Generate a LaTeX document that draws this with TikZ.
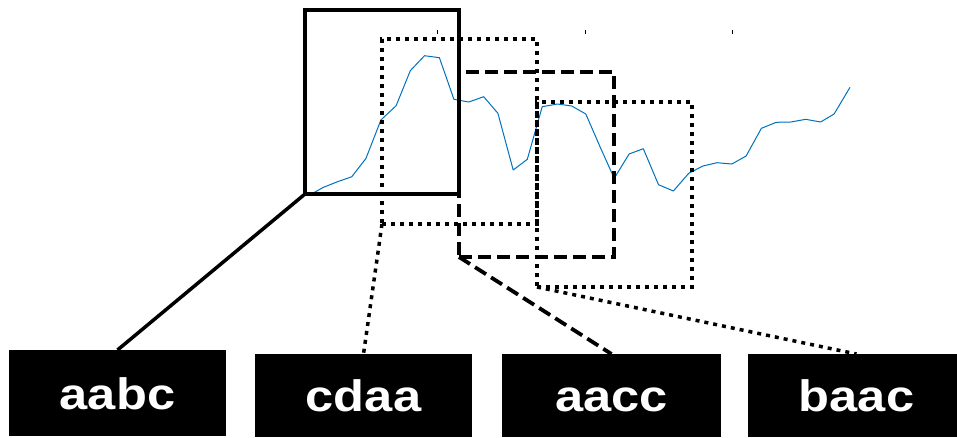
\documentclass[tikz,border=0pt]{standalone}
\usepackage{fontspec}
\newfontfamily\labfont[FakeStretch=1.15]{Liberation Sans}
\definecolor{curveblue}{RGB}{0,114,189}
\tikzset{
  winbox/.style={draw=black, rectangle, inner sep=0pt, outer sep=0pt},
  solidwin/.style={winbox, line width=3.5pt},
  dotwin/.style={winbox, line width=3.5pt, dash pattern=on 4pt off 5pt},
  dashwin/.style={winbox, line width=3.8pt, dash pattern=on 13pt off 6pt},
  labbox/.style={rectangle, fill=black, text=white, inner sep=0pt, outer sep=0pt,
    minimum width=217pt, minimum height=83pt, text height=32pt, text depth=0pt,
    font=\labfont\bfseries\fontsize{44}{48}\selectfont},
  solidline/.style={line width=3.5pt},
  dotline/.style={line width=3.5pt, dash pattern=on 4pt off 5pt},
  dashline/.style={line width=3.8pt, dash pattern=on 13pt off 6pt},
  tick/.style={line width=1pt}
}
\begin{document}
\begin{tikzpicture}[x=1pt,y=-1pt]
\useasboundingbox (0,0) rectangle (957,437);
\clip (0,0) rectangle (957,437);
% tick marks
\coordinate (t1a) at (437.7,30); \coordinate (t1b) at (437.7,34);
\coordinate (t2a) at (585,30); \coordinate (t2b) at (585,34);
\coordinate (t3a) at (732.7,30); \coordinate (t3b) at (732.7,34);
\draw[tick] (t1a) -- (t1b);
\draw[tick] (t2a) -- (t2b);
\draw[tick] (t3a) -- (t3b);
% curve
\draw[curveblue, line width=1pt, line join=round] plot coordinates {
(312.8,193.3) (323.4,187.3) (337.6,181.7) (351.8,176.7) (366,158.3)
(380.9,120) (396.1,105.7) (410.3,70.7) (424.5,55.7) (439.4,57.7)
(453.9,99.3) (468.8,102) (483.7,96.7) (497.9,113.3) (513.2,170)
(527.3,159.3) (542.2,106.7) (557.5,104) (571.7,106) (585.8,114)
(600,146.7) (614.2,178.3) (629.1,154) (643.3,148.7) (658.5,184.7)
(673.4,191) (688.7,173.3) (702.9,166) (717,162.7) (731.9,164)
(746.1,156) (761.4,128.3) (776.3,122.3) (790.8,122) (805.7,119.3)
(820.6,122) (834.1,114) (850,87.3)};
% windows
\node[solidwin, minimum width=154pt, minimum height=184pt] (w1) at (382,102) {};
\node[dotwin, minimum width=155pt, minimum height=185pt] (w2) at (459.5,131.5) {};
\node[dashwin, minimum width=155pt, minimum height=185pt] (w3) at (536.5,164.5) {};
\node[dotwin, minimum width=155pt, minimum height=185pt] (w4) at (614.5,194.5) {};
% labels
\node[labbox, minimum height=86pt] (l1) at (117.5,393) {aabc};
\node[labbox] (l2) at (363.5,395.5) {cdaa};
\node[labbox, minimum width=219pt] (l3) at (611.5,395.5) {aacc};
\node[labbox] (l4) at (856.5,395.5) {baac};
% connectors
\draw[solidline] (w1.south west) -- (l1.north);
\draw[dotline] (w2.south west) -- (l2.north);
\draw[dashline] (w3.south west) -- (l3.north);
\draw[dotline] (w4.south west) -- (l4.north);
\end{tikzpicture}
\end{document}
